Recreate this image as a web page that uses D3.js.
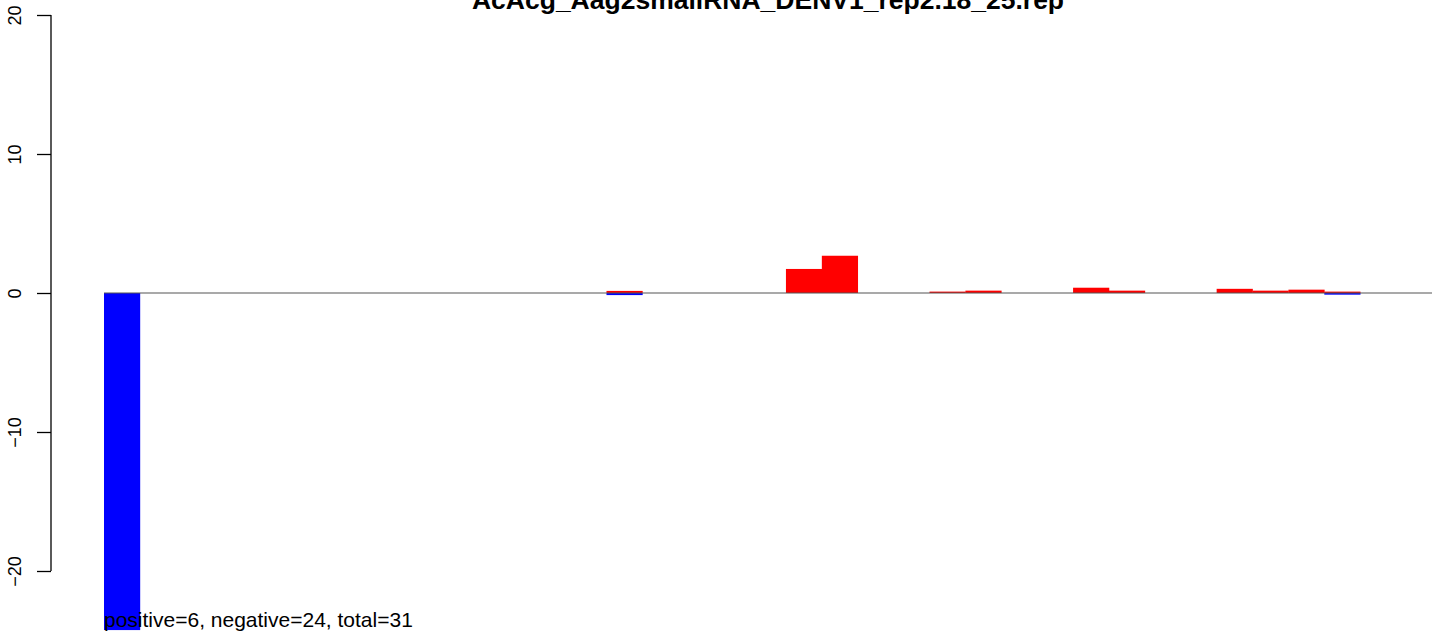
<!DOCTYPE html>
<html>
<head>
<meta charset="utf-8">
<script src="https://cdn.jsdelivr.net/npm/d3@7"></script>
<style>
  html, body { margin: 0; padding: 0; background: #fff; }
  svg { display: block; font-family: "Liberation Sans", Arial, Helvetica, sans-serif; }
</style>
</head>
<body>
<svg id="chart" width="1444" height="641"></svg>
<script>
const title = "AcAcg_Aag2smallRNA_DENV1_rep2.18_25.rep";
const summary = "positive=6, negative=24, total=31";
const slots = ["1","2","3","4","5","6","7","8","9","10","11","12","13","14","15","16","17","18","19","20","21","22","23","24","25","26","27","28","29","30","31","32","33","34","35","36","37"];
const positiveValues = [0,0,0,0,0,0,0,0,0,0,0,0,0,0,0.15,0,0,0,0,1.73,2.68,0,0,0.1,0.17,0,0,0.38,0.17,0,0,0.3,0.17,0.24,0.1,0,0];
const negativeValues = [-24.25,0,0,0,0,0,0,0,0,0,0,0,0,0,-0.15,0,0,0,0,0,0,0,0,0,0,0,0,0,0,0,0,0,0,0,-0.12,0,0];
const yTicks = [-20, -10, 0, 10, 20];

const svg = d3.select("#chart");
const x = d3.scaleBand().domain(slots).range([104, 1432]).paddingInner(0).paddingOuter(0);
const y = d3.scaleLinear().domain([-20, 20]).range([571, 15]);

// positive bars
svg.append("g").selectAll("rect").data(slots).join("rect")
  .attr("x", (d) => x(d))
  .attr("width", x.bandwidth() + 0.3)
  .attr("y", (d, i) => y(Math.max(0, positiveValues[i])))
  .attr("height", (d, i) => Math.abs(y(positiveValues[i]) - y(0)))
  .attr("fill", "#ff0000");

// negative bars
svg.append("g").selectAll("rect").data(slots).join("rect")
  .attr("x", (d) => x(d))
  .attr("width", x.bandwidth() + 0.3)
  .attr("y", y(0))
  .attr("height", (d, i) => Math.abs(y(negativeValues[i]) - y(0)))
  .attr("fill", "#0000ff");

// zero line
svg.append("line")
  .attr("x1", x.range()[0]).attr("x2", x.range()[1])
  .attr("y1", y(0)).attr("y2", y(0))
  .attr("stroke", "#555").attr("stroke-width", 1.2);

// y axis
const yAxis = d3.axisLeft(y).tickValues(yTicks).tickSize(14)
  .tickFormat((d) => d < 0 ? "\u2212" + Math.abs(d) : String(d));
const ag = svg.append("g").attr("transform", "translate(51,0)").call(yAxis);
ag.select(".domain").attr("stroke", "#000").attr("stroke-width", 1.3)
  .attr("d", `M0,${y(-20)}V${y(20)}`);
ag.selectAll(".tick line").attr("stroke", "#000").attr("stroke-width", 1.3);
ag.selectAll(".tick text")
  .attr("x", null).attr("dy", null)
  .attr("transform", "translate(-30,0) rotate(-90)")
  .attr("text-anchor", "middle")
  .attr("fill", "#000")
  .style("font-size", "18px")
  .style("font-family", "Liberation Sans, Arial, sans-serif");

// title
svg.append("text")
  .attr("x", 768).attr("y", 9)
  .attr("text-anchor", "middle")
  .style("font-size", "26.5px").style("font-weight", "bold")
  .text(title);

// summary text
svg.append("text")
  .attr("x", 104).attr("y", 627)
  .style("font-size", "21px")
  .text(summary);
</script>
</body>
</html>
